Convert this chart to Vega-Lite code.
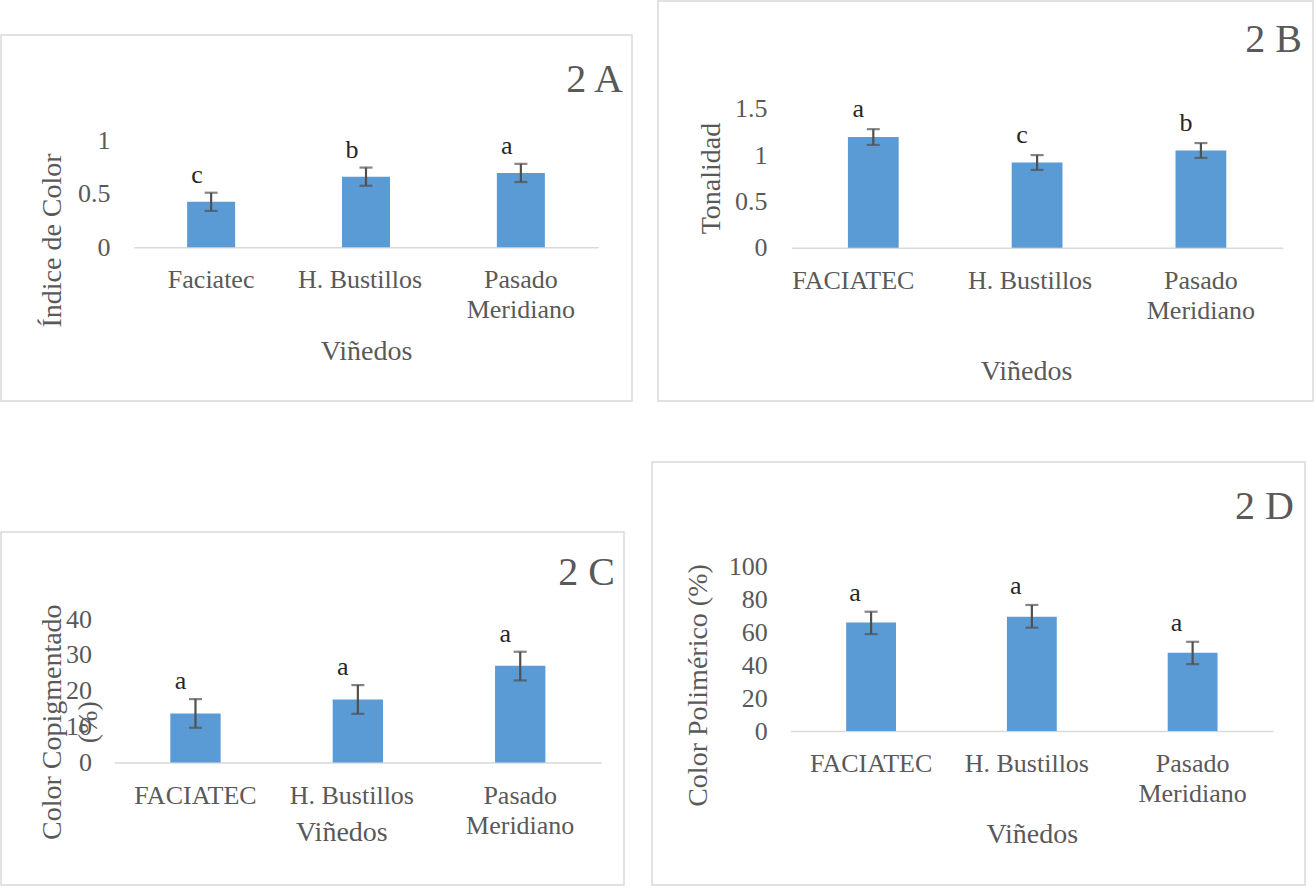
{
  "$schema": "https://vega.github.io/schema/vega-lite/v6.json",
  "padding": {"left": 0, "top": 0, "right": 0, "bottom": 0},
  "background": "white",
  "config": {
    "font": "Liberation Serif",
    "view": {"stroke": "#D9D9D9", "strokeWidth": 1.5},
    "axis": {"labelFont": "Liberation Serif", "labelFontSize": 26, "labelColor": "#595959", "titleFont": "Liberation Serif", "titleFontSize": 28, "titleColor": "#595959", "titleFontWeight": "normal", "ticks": false, "tickSize": 0, "grid": false},
    "axisX": {"domainColor": "#D9D9D9", "domainWidth": 1.5, "labelAngle": 0, "labelPadding": 19.5, "labelLineHeight": 30, "labelOverlap": false, "titleBaseline": "alphabetic", "titleAlign": "center"},
    "axisY": {"domain": false, "labelPadding": 4, "titleAngle": -90, "titleBaseline": "middle", "titleAlign": "center"},
    "title": {"font": "Liberation Serif", "fontSize": 40, "fontWeight": "normal", "color": "#595959", "anchor": "end", "frame": "group", "orient": "top"}
  },
  "spacing": 59,
  "vconcat": [
    {
      "spacing": 24,
      "hconcat": [
        {
          "spacing": 0,
          "vconcat": [
            {"width": 1, "height": 33, "data": {"values": []}, "mark": "point", "encoding": {}, "view": {"stroke": null}},
            {
              "width": 631, "height": 366,
              "title": {"text": "2 A", "offset": -64.5, "dx": -9},
              "data": {"values": [
                {"vinedo": "Faciatec", "valor": 0.425, "lo": 0.34, "hi": 0.51, "letra": "c"},
                {"vinedo": "H. Bustillos", "valor": 0.66, "lo": 0.575, "hi": 0.745, "letra": "b"},
                {"vinedo": "Pasado Meridiano", "valor": 0.695, "lo": 0.61, "hi": 0.78, "letra": "a"}
              ]},
              "encoding": {"x": {"field": "vinedo", "type": "nominal", "sort": null,
                "scale": {"range": [132.7, 597.3], "paddingInner": 0, "paddingOuter": 0},
                "axis": {"title": "Viñedos", "offset": -153.7, "titleY": 112,
                  "labelOffset": {"condition": {"test": "datum.label == 'H. Bustillos'", "value": -6}, "value": 0},
                  "labelExpr": "datum.label == 'Pasado Meridiano' ? ['Pasado', 'Meridiano'] : datum.label"}}},
              "layer": [
                {"mark": {"type": "bar", "width": {"band": 0.31}, "color": "#5B9BD5"},
                 "encoding": {"y": {"field": "valor", "type": "quantitative",
                   "scale": {"domain": [0, 1], "range": [212.3, 105.3], "nice": false, "zero": false},
                   "axis": {"title": "Índice de Color", "values": [0, 0.5, 1], "format": "~r", "offset": -113, "titleX": -62, "titleY": 205}}}},
                {"mark": {"type": "rule", "color": "#505050", "strokeWidth": 2.2},
                 "encoding": {"y": {"field": "lo", "type": "quantitative"}, "y2": {"field": "hi"}}},
                {"mark": {"type": "tick", "color": "#505050", "thickness": 2.2, "size": 13},
                 "encoding": {"y": {"field": "lo", "type": "quantitative"}}},
                {"mark": {"type": "tick", "color": "#505050", "thickness": 2.2, "size": 13},
                 "encoding": {"y": {"field": "hi", "type": "quantitative"}}},
                {"mark": {"type": "text", "dx": -14, "dy": -10, "baseline": "alphabetic", "fontSize": 26, "color": "#262626", "font": "Liberation Serif"},
                 "encoding": {"y": {"field": "hi", "type": "quantitative"}, "text": {"field": "letra"}}}
              ]
            }
          ]
        },
        {
          "width": 655, "height": 400,
          "title": {"text": "2 B", "offset": -59, "dx": -11},
          "data": {"values": [
            {"vinedo": "FACIATEC", "valor": 1.195, "lo": 1.11, "hi": 1.28, "letra": "a"},
            {"vinedo": "H. Bustillos", "valor": 0.92, "lo": 0.84, "hi": 1.0, "letra": "c"},
            {"vinedo": "Pasado Meridiano", "valor": 1.05, "lo": 0.97, "hi": 1.13, "letra": "b"}
          ]},
          "encoding": {"x": {"field": "vinedo", "type": "nominal", "sort": null,
            "scale": {"range": [133.4, 624.8], "paddingInner": 0, "paddingOuter": 0},
            "axis": {"title": "Viñedos", "offset": -153.3, "titleX": 368, "titleY": 132,
              "labelOffset": {"condition": [{"test": "datum.label == 'H. Bustillos'", "value": -7}, {"test": "datum.label == 'FACIATEC'", "value": -20}], "value": 0},
              "labelExpr": "datum.label == 'Pasado Meridiano' ? ['Pasado', 'Meridiano'] : datum.label"}}},
          "layer": [
            {"mark": {"type": "bar", "width": {"band": 0.31}, "color": "#5B9BD5"},
             "encoding": {"y": {"field": "valor", "type": "quantitative",
               "scale": {"domain": [0, 1.5], "range": [246.7, 107.8], "nice": false, "zero": false},
               "axis": {"title": "Tonalidad", "values": [0, 0.5, 1, 1.5], "format": "~r", "offset": -113, "titleX": -59.4, "titleY": 177}}}},
            {"mark": {"type": "rule", "color": "#505050", "strokeWidth": 2.2},
             "encoding": {"y": {"field": "lo", "type": "quantitative"}, "y2": {"field": "hi"}}},
            {"mark": {"type": "tick", "color": "#505050", "thickness": 2.2, "size": 13},
             "encoding": {"y": {"field": "lo", "type": "quantitative"}}},
            {"mark": {"type": "tick", "color": "#505050", "thickness": 2.2, "size": 13},
             "encoding": {"y": {"field": "hi", "type": "quantitative"}}},
            {"mark": {"type": "text", "dx": -15, "dy": -12, "baseline": "alphabetic", "fontSize": 26, "color": "#262626", "font": "Liberation Serif"},
             "encoding": {"y": {"field": "hi", "type": "quantitative"}, "text": {"field": "letra"}}}
          ]
        }
      ]
    },
    {
      "spacing": 26,
      "hconcat": [
        {
          "spacing": 0,
          "vconcat": [
            {"width": 1, "height": 69, "data": {"values": []}, "mark": "point", "encoding": {}, "view": {"stroke": null}},
            {
              "width": 623, "height": 353,
              "title": {"text": "2 C", "offset": -61, "dx": -9},
              "data": {"values": [
                {"vinedo": "FACIATEC", "valor": 13.7, "lo": 9.7, "hi": 17.7, "letra": "a"},
                {"vinedo": "H. Bustillos", "valor": 17.6, "lo": 13.6, "hi": 21.6, "letra": "a"},
                {"vinedo": "Pasado Meridiano", "valor": 27.0, "lo": 22.9, "hi": 30.9, "letra": "a"}
              ]},
              "encoding": {"x": {"field": "vinedo", "type": "nominal", "sort": null,
                "scale": {"range": [113.3, 600.4], "paddingInner": 0, "paddingOuter": 0},
                "axis": {"title": "Viñedos", "offset": -122.4, "titleX": 340.4, "titleY": 77.7,
                  "labelOffset": {"condition": {"test": "datum.label == 'H. Bustillos'", "value": -6}, "value": 0},
                  "labelExpr": "datum.label == 'Pasado Meridiano' ? ['Pasado', 'Meridiano'] : datum.label"}}},
              "layer": [
                {"mark": {"type": "bar", "width": {"band": 0.31}, "color": "#5B9BD5"},
                 "encoding": {"y": {"field": "valor", "type": "quantitative",
                   "scale": {"domain": [0, 40], "range": [230.6, 87.1], "nice": false, "zero": false},
                   "axis": {"title": ["Color Copigmentado", "(%)"], "titleLineHeight": 36, "values": [0, 10, 20, 30, 40], "format": "~r", "offset": -94.4, "titleX": -42.5, "titleY": 189.7}}}},
                {"mark": {"type": "rule", "color": "#505050", "strokeWidth": 2.2},
                 "encoding": {"y": {"field": "lo", "type": "quantitative"}, "y2": {"field": "hi"}}},
                {"mark": {"type": "tick", "color": "#505050", "thickness": 2.2, "size": 13},
                 "encoding": {"y": {"field": "lo", "type": "quantitative"}}},
                {"mark": {"type": "tick", "color": "#505050", "thickness": 2.2, "size": 13},
                 "encoding": {"y": {"field": "hi", "type": "quantitative"}}},
                {"mark": {"type": "text", "dx": -15, "dy": -10, "baseline": "alphabetic", "fontSize": 26, "color": "#262626", "font": "Liberation Serif"},
                 "encoding": {"y": {"field": "hi", "type": "quantitative"}, "text": {"field": "letra"}}}
              ]
            }
          ]
        },
        {
          "width": 653, "height": 423,
          "title": {"text": "2 D", "offset": -65, "dx": -11},
          "data": {"values": [
            {"vinedo": "FACIATEC", "valor": 66.0, "lo": 59.0, "hi": 72.6, "letra": "a"},
            {"vinedo": "H. Bustillos", "valor": 69.5, "lo": 62.9, "hi": 76.7, "letra": "a"},
            {"vinedo": "Pasado Meridiano", "valor": 47.7, "lo": 40.7, "hi": 54.3, "letra": "a"}
          ]},
          "encoding": {"x": {"field": "vinedo", "type": "nominal", "sort": null,
            "scale": {"range": [138.7, 621], "paddingInner": 0, "paddingOuter": 0},
            "axis": {"title": "Viñedos", "offset": -154, "titleY": 111.7,
              "labelOffset": {"condition": {"test": "datum.label == 'H. Bustillos'", "value": -5}, "value": 0},
              "labelExpr": "datum.label == 'Pasado Meridiano' ? ['Pasado', 'Meridiano'] : datum.label"}}},
          "layer": [
            {"mark": {"type": "bar", "width": {"band": 0.31}, "color": "#5B9BD5"},
             "encoding": {"y": {"field": "valor", "type": "quantitative",
               "scale": {"domain": [0, 100], "range": [269, 104.7], "nice": false, "zero": false},
               "axis": {"title": "Color Polimérico (%)", "values": [0, 20, 40, 60, 80, 100], "format": "~r", "offset": -119.2, "titleX": -72.3, "titleY": 223}}}},
            {"mark": {"type": "rule", "color": "#505050", "strokeWidth": 2.2},
             "encoding": {"y": {"field": "lo", "type": "quantitative"}, "y2": {"field": "hi"}}},
            {"mark": {"type": "tick", "color": "#505050", "thickness": 2.2, "size": 13},
             "encoding": {"y": {"field": "lo", "type": "quantitative"}}},
            {"mark": {"type": "tick", "color": "#505050", "thickness": 2.2, "size": 13},
             "encoding": {"y": {"field": "hi", "type": "quantitative"}}},
            {"mark": {"type": "text", "dx": -16, "dy": -11, "baseline": "alphabetic", "fontSize": 26, "color": "#262626", "font": "Liberation Serif"},
             "encoding": {"y": {"field": "hi", "type": "quantitative"}, "text": {"field": "letra"}}}
          ]
        }
      ]
    }
  ]
}
